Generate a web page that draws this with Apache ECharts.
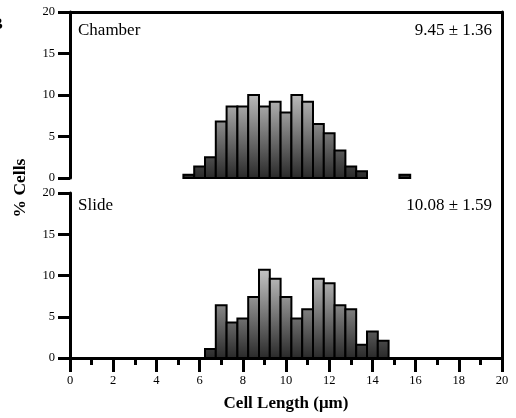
<!DOCTYPE html>
<html>
<head>
<meta charset="utf-8">
<script src="https://cdn.jsdelivr.net/npm/echarts@6/dist/echarts.min.js"></script>
<style>
  html, body { margin: 0; padding: 0; background: #fff; }
  #chart { width: 516px; height: 418px; }
</style>
</head>
<body>
<div id="chart"></div>
<script>
// Histogram bin width (µm); bins are given by their centres.
const binWidth = 0.5;

// Chamber-cultured cells: % of cells per length bin
const chamberBins = [5.5, 6, 6.5, 7, 7.5, 8, 8.5, 9, 9.5, 10, 10.5, 11, 11.5, 12, 12.5, 13, 13.5, 15.5];
const chamberPct  = [0.4, 1.4, 2.5, 6.8, 8.6, 8.6, 10.0, 8.6, 9.2, 7.9, 10.0, 9.2, 6.5, 5.4, 3.3, 1.4, 0.8, 0.4];

// Slide-cultured cells: % of cells per length bin
const slideBins = [6.5, 7, 7.5, 8, 8.5, 9, 9.5, 10, 10.5, 11, 11.5, 12, 12.5, 13, 13.5, 14, 14.5];
const slidePct  = [1.1, 6.4, 4.3, 4.8, 7.4, 10.7, 9.6, 7.4, 4.8, 5.9, 9.6, 9.05, 6.4, 5.9, 1.6, 3.2, 2.1];

// Panel captions and summary statistics (mean ± SD)
const panelNames = ['Chamber', 'Slide'];
const panelStats = ['9.45 ± 1.36', '10.08 ± 1.59'];

// Axis ranges
const xRange = [0, 20];
const xMajorStep = 2;
const yRange = [0, 20];
const yStep = 5;

const FONT = "'Liberation Serif', 'DejaVu Serif', serif";

function zip(a, b) { return a.map((v, i) => [v, b[i]]); }

function renderBar(params, api) {
  const c = api.value(0);
  const v = api.value(1);
  const tl = api.coord([c - binWidth / 2, v]);
  const br = api.coord([c + binWidth / 2, 0]);
  const gTop = api.coord([0, 11])[1];
  return {
    type: 'rect',
    shape: { x: tl[0], y: tl[1], width: br[0] - tl[0], height: br[1] - tl[1] },
    style: {
      fill: new echarts.graphic.LinearGradient(0, gTop, 0, br[1], [
        { offset: 0, color: '#c8c8c8' },
        { offset: 1, color: '#2a2a2a' }
      ], true),
      stroke: '#000',
      lineWidth: 2
    }
  };
}

const axisLineStyle = { color: '#000', width: 3 };

function valueYAxis(gridIndex) {
  return {
    type: 'value', gridIndex,
    min: yRange[0], max: yRange[1], interval: yStep,
    axisLine: { show: true, lineStyle: axisLineStyle },
    axisTick: { show: true, inside: false, length: 12, lineStyle: axisLineStyle },
    axisLabel: { margin: 15, color: '#000', fontFamily: FONT, fontSize: 12.5 },
    splitLine: { show: false }
  };
}

const captionStyle = { fontFamily: FONT, fontWeight: 'normal', fontSize: 17, color: '#000' };

const chart = echarts.init(document.getElementById('chart'), null, { renderer: 'canvas' });

chart.setOption({
  animation: false,
  backgroundColor: '#fff',
  title: [
    { text: panelNames[0], left: 73, top: 17, textStyle: captionStyle },
    { text: panelStats[0], right: 19, top: 17, textStyle: captionStyle },
    { text: panelNames[1], left: 73, top: 192, textStyle: captionStyle },
    { text: panelStats[1], right: 19, top: 192, textStyle: captionStyle },
    { text: 'B', left: -13, top: 12, textStyle: { fontFamily: FONT, fontWeight: 'bold', fontSize: 16, color: '#000' } }
  ],
  graphic: [
    {
      type: 'text', x: 20, y: 188, rotation: Math.PI / 2,
      style: {
        text: '% Cells', align: 'center', verticalAlign: 'middle',
        font: "bold 17.5px 'Liberation Serif', 'DejaVu Serif', serif", fill: '#000'
      }
    }
  ],
  grid: [
    { left: 70, top: 12, width: 432, height: 166 },
    { left: 70, top: 193, width: 432, height: 165 },
    { left: 70, top: 12, width: 432, height: 346 }
  ],
  xAxis: [
    { type: 'value', gridIndex: 0, min: xRange[0], max: xRange[1], show: false },
    {
      type: 'value', gridIndex: 1, min: xRange[0], max: xRange[1], interval: xMajorStep,
      axisLine: { show: true, onZero: false, lineStyle: axisLineStyle },
      axisTick: { show: true, inside: false, length: 14, lineStyle: axisLineStyle },
      minorTick: { show: true, splitNumber: 2, length: 7, lineStyle: axisLineStyle },
      axisLabel: { margin: 16, color: '#000', fontFamily: FONT, fontSize: 12.5 },
      splitLine: { show: false },
      name: 'Cell Length (μm)', nameLocation: 'middle', nameGap: 37,
      nameTextStyle: { fontFamily: FONT, fontWeight: 'bold', fontSize: 17, color: '#000' }
    },
    {
      type: 'value', gridIndex: 2, position: 'top', min: xRange[0], max: xRange[1],
      axisLine: { show: true, onZero: false, lineStyle: axisLineStyle },
      axisTick: { show: false }, axisLabel: { show: false }, splitLine: { show: false }
    }
  ],
  yAxis: [
    valueYAxis(0),
    valueYAxis(1),
    {
      type: 'value', gridIndex: 2, position: 'right', min: 0, max: 1,
      axisLine: { show: true, onZero: false, lineStyle: axisLineStyle },
      axisTick: { show: false }, axisLabel: { show: false }, splitLine: { show: false }
    }
  ],
  series: [
    { type: 'custom', xAxisIndex: 0, yAxisIndex: 0, renderItem: renderBar, data: zip(chamberBins, chamberPct) },
    { type: 'custom', xAxisIndex: 1, yAxisIndex: 1, renderItem: renderBar, data: zip(slideBins, slidePct) }
  ]
});
</script>
</body>
</html>
